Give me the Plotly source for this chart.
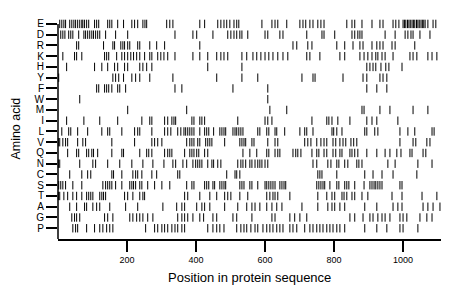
import plotly.graph_objects as go

# Amino acids, top to bottom
amino_acids = ["E", "D", "R", "K", "H", "Y", "F", "W", "M", "I",
               "L", "V", "Q", "N", "C", "S", "T", "A", "G", "P"]

pos_E = [5, 11, 17, 22, 34, 40, 46, 51, 57, 63, 69, 72, 77, 83, 89, 106, 112, 118, 144, 150, 156, 173, 190, 214, 222, 231, 246, 252, 257, 315, 324, 333, 411, 425, 463, 472, 481, 489, 498, 510, 518, 524, 591, 620, 629, 637, 663, 701, 710, 718, 730, 739, 753, 762, 771, 837, 852, 860, 881, 910, 933, 942, 971, 979, 988, 1000, 1004, 1008, 1013, 1017, 1021, 1026, 1030, 1034, 1039, 1043, 1047, 1052, 1056, 1060, 1064, 1072, 1087, 1095]
pos_D = [8, 14, 20, 31, 37, 43, 60, 75, 80, 86, 92, 98, 103, 109, 115, 121, 138, 167, 202, 339, 391, 402, 449, 492, 501, 510, 518, 527, 533, 550, 600, 608, 643, 652, 721, 765, 771, 802, 852, 860, 869, 875, 881, 948, 977, 1006, 1014, 1023, 1029, 1049, 1078]
pos_R = [54, 60, 132, 159, 164, 182, 188, 193, 202, 208, 231, 237, 266, 286, 309, 411, 681, 692, 724, 736, 808, 831, 855, 875, 884, 910, 924, 933, 942, 968, 977, 1034]
pos_K = [14, 48, 54, 69, 135, 141, 147, 170, 185, 193, 202, 211, 219, 228, 237, 251, 266, 272, 289, 298, 307, 318, 339, 391, 411, 434, 460, 472, 481, 492, 533, 547, 565, 576, 588, 600, 611, 623, 637, 652, 666, 721, 730, 759, 817, 831, 875, 887, 898, 910, 921, 927, 939, 948, 971, 1020, 1029, 1040, 1072, 1084, 1098]
pos_H = [25, 106, 127, 144, 164, 173, 193, 202, 237, 246, 257, 272, 434, 533, 895, 904, 913, 921, 936, 950, 959, 997]
pos_Y = [2, 159, 167, 176, 190, 214, 225, 237, 266, 333, 460, 533, 579, 707, 739, 745, 826, 884, 895, 933, 942, 953]
pos_F = [112, 118, 135, 141, 147, 156, 173, 179, 196, 339, 359, 507, 608, 895, 924, 953]
pos_W = [63, 608]
pos_M = [202, 373, 614, 663, 881, 887, 933, 962, 1029, 1072]
pos_I = [25, 75, 121, 173, 243, 266, 272, 309, 318, 330, 336, 341, 388, 394, 411, 417, 425, 521, 600, 608, 620, 736, 779, 785, 794, 811, 846, 895, 910, 924, 985]
pos_L = [11, 31, 37, 57, 86, 127, 144, 150, 185, 222, 231, 237, 272, 309, 318, 327, 347, 356, 365, 370, 376, 382, 388, 394, 411, 425, 431, 437, 451, 469, 475, 481, 486, 507, 513, 518, 524, 530, 536, 579, 585, 605, 611, 629, 634, 657, 701, 715, 721, 739, 794, 799, 808, 823, 889, 895, 918, 927, 991, 1014, 1034, 1084, 1090]
pos_V = [1, 5, 14, 22, 28, 57, 72, 80, 156, 222, 272, 280, 289, 301, 373, 382, 388, 394, 405, 411, 428, 434, 440, 446, 483, 527, 533, 539, 544, 562, 568, 608, 629, 637, 715, 724, 733, 750, 762, 771, 779, 797, 805, 817, 826, 834, 849, 857, 866, 991, 1029, 1037, 1069, 1078]
pos_Q = [28, 54, 60, 83, 89, 98, 103, 115, 156, 185, 190, 237, 257, 263, 272, 309, 318, 324, 330, 367, 382, 388, 394, 402, 408, 425, 434, 536, 556, 576, 605, 611, 629, 637, 643, 681, 689, 695, 704, 736, 750, 756, 771, 779, 797, 805, 817, 823, 846, 852, 860, 869, 895, 924, 948, 962, 982, 994, 1020, 1026, 1058, 1066]
pos_N = [1, 5, 63, 101, 109, 144, 179, 214, 246, 275, 307, 333, 341, 362, 373, 391, 399, 405, 411, 417, 434, 446, 451, 463, 472, 521, 530, 536, 544, 556, 562, 571, 579, 585, 591, 600, 608, 739, 750, 782, 791, 808, 814, 831, 840, 866, 872, 881, 956, 977, 1043, 1084]
pos_C = [34, 69, 86, 95, 156, 161, 185, 217, 225, 231, 243, 272, 286, 347, 353, 489, 513, 518, 527, 753, 759, 765, 808, 889, 913, 939, 971, 1040]
pos_S = [2, 8, 14, 22, 43, 69, 130, 138, 144, 150, 156, 167, 185, 208, 214, 219, 225, 237, 243, 260, 280, 301, 324, 373, 388, 394, 425, 431, 437, 449, 454, 469, 475, 481, 486, 527, 533, 539, 556, 562, 579, 600, 605, 611, 617, 623, 629, 643, 649, 655, 660, 750, 756, 762, 768, 773, 788, 808, 814, 831, 837, 843, 860, 887, 904, 910, 916, 921, 927, 933, 939, 991, 997]
pos_T = [1, 5, 17, 28, 43, 54, 69, 83, 89, 95, 101, 121, 127, 132, 138, 193, 202, 217, 237, 246, 251, 367, 376, 411, 440, 460, 483, 492, 501, 527, 550, 605, 614, 623, 629, 637, 672, 753, 779, 794, 802, 823, 829, 837, 852, 860, 881, 898, 968, 997, 1055, 1098]
pos_A = [34, 54, 77, 83, 101, 112, 121, 150, 196, 231, 304, 344, 359, 367, 402, 417, 425, 440, 483, 521, 547, 562, 571, 585, 605, 620, 634, 649, 707, 753, 782, 794, 802, 817, 831, 889, 924, 971, 985, 997, 1058, 1072, 1087, 1107]
pos_G = [40, 48, 54, 63, 135, 144, 159, 208, 217, 228, 237, 246, 260, 275, 347, 359, 367, 376, 391, 411, 422, 449, 460, 507, 518, 562, 620, 629, 672, 686, 701, 721, 846, 860, 884, 904, 913, 927, 939, 948, 962, 991, 1000, 1011, 1049, 1069, 1084]
pos_P = [43, 51, 57, 83, 106, 121, 130, 141, 150, 159, 254, 280, 289, 301, 309, 318, 330, 339, 347, 359, 367, 434, 449, 460, 469, 481, 518, 530, 539, 547, 559, 571, 579, 594, 605, 614, 623, 634, 643, 652, 672, 681, 692, 715, 730, 739, 750, 759, 768, 779, 788, 797, 808, 817, 831, 889, 924, 953, 991, 1000, 1043]

x_ticks = [200, 400, 600, 800, 1000]
seq_length = 1110

rows = [pos_E, pos_D, pos_R, pos_K, pos_H, pos_Y, pos_F, pos_W, pos_M, pos_I,
        pos_L, pos_V, pos_Q, pos_N, pos_C, pos_S, pos_T, pos_A, pos_G, pos_P]

n = len(amino_acids)
xs, ys = [], []
for i, (aa, pts) in enumerate(zip(amino_acids, rows)):
    yval = n - 1 - i
    xs.extend(pts)
    ys.extend([yval] * len(pts))

fig = go.Figure()
fig.add_trace(go.Scatter(
    x=xs, y=ys, mode="markers",
    marker=dict(symbol="line-ns", size=6, line=dict(width=1, color="black"), color="black"),
    cliponaxis=False, hoverinfo="skip", showlegend=False,
))

font_family = "Liberation Sans, Arial, sans-serif"

fig.update_layout(
    width=460, height=299,
    margin=dict(l=50, r=27, t=10, b=68),
    paper_bgcolor="white", plot_bgcolor="white",
    xaxis=dict(
        range=[0, seq_length], tickvals=x_ticks, ticktext=[str(v) for v in x_ticks],
        showline=True, linecolor="black", linewidth=1.5,
        ticks="outside", ticklen=11, tickwidth=1.5, tickcolor="black",
        showgrid=False, zeroline=False,
        tickfont=dict(family=font_family, size=9, color="black"),
    ),
    yaxis=dict(
        range=[-1, n - 1 + 0.55],
        tickvals=list(range(n)), ticktext=amino_acids[::-1],
        showline=False,
        ticks="outside", ticklen=11, tickwidth=1.5, tickcolor="black",
        showgrid=False, zeroline=False,
        tickfont=dict(family=font_family, size=10, color="black"),
    ),
    shapes=[dict(type="line", xref="paper", x0=0, x1=0, yref="y", y0=n - 1, y1=-1,
                 line=dict(color="black", width=1.5))],
    annotations=[
        dict(text="Position in protein sequence", xref="paper", yref="paper",
             x=0.5, y=-0.176, xanchor="center", yanchor="middle", showarrow=False,
             font=dict(family=font_family, size=13, color="black")),
        dict(text="Amino acid", xref="paper", yref="paper", textangle=-90,
             x=-0.112, y=0.5, xanchor="center", yanchor="middle", showarrow=False,
             font=dict(family=font_family, size=12.5, color="black")),
    ],
)

fig.write_html("out.html")
